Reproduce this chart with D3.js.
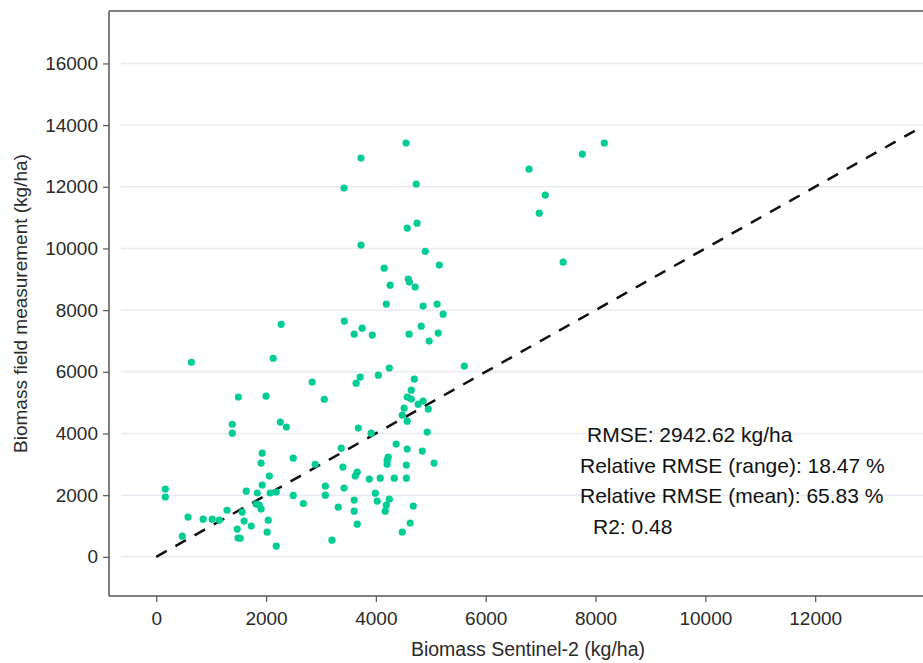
<!DOCTYPE html>
<html lang="en">
<head>
    <meta charset="UTF-8">
    <script src="https://d3js.org/d3.v7.min.js"></script>
    <title>Biomass scatter</title>
    <style>
        body{
            margin: 0;
            background: #fff;
        }
        svg text{
            font-family: "Liberation Sans", Arial, Helvetica, sans-serif;
        }
    </style>
</head>
<body>
    <script>
        // Sentinel-2 estimate (x) and field measurement (y), kg/ha
        const sentinel = [
            165, 165, 640, 475, 580, 855, 1020, 1150, 1290, 1385,
            1385, 1495, 1475, 1490, 1530, 1565, 1600, 1640, 1730, 1840,
            1820, 1875, 1910, 1930, 1930, 1910, 2000, 2060, 2075, 2040,
            2020, 2185, 2185, 2260, 2370, 2495, 2495, 2680, 2895, 2840,
            3060, 3080, 3080, 3200, 3315, 3370, 3400, 3420, 2275, 2130,
            4550, 3730, 3420, 4735, 4570, 4750, 3730, 4900, 4150, 5155,
            4260, 4590, 4610, 4715, 4190, 4860, 5115, 5225, 3425, 3750,
            3605, 3935, 4605, 4825, 5135, 4970, 5610, 4245, 4045, 3715,
            3640, 4700, 4645, 4570, 4645, 4860, 4770, 4955, 4515, 4480,
            4570, 3680, 3915, 4935, 4370, 4570, 4845, 4225, 4205, 4205,
            4555, 5060, 3660, 3625, 3880, 4080, 4335, 4555, 3990, 4025,
            4245, 4190, 4170, 3605, 3605, 4680, 3660, 4625, 4480, 6790,
            7760, 8160, 7085, 6975, 7410
        ];
        const field = [
            2200, 1940, 6310, 670, 1290, 1220, 1220, 1190, 1510, 4300,
            4010, 5180, 900, 610, 600, 1450, 1160, 2130, 1000, 2070,
            1710, 1680, 3040, 3360, 2330, 1550, 5210, 2620, 2070, 1190,
            800, 2100, 350, 4370, 4210, 3200, 1990, 1730, 3000, 5670,
            5110, 2290, 2000, 540, 1610, 3525, 2910, 2230, 7540, 6440,
            13420, 12930, 11960, 12090, 10660, 10820, 10110, 9910, 9360, 9460,
            8810, 9010, 8910, 8750, 8195, 8130, 8195, 7870, 7645, 7415,
            7220, 7190, 7220, 7480, 7255, 6995, 6185, 6120, 5890, 5830,
            5630, 5760, 5405, 5180, 5115, 5050, 4950, 4790, 4820, 4595,
            4400, 4175, 4010, 4045, 3655, 3495, 3430, 3235, 3135, 3005,
            2975, 3040, 2745, 2620, 2520, 2550, 2550, 2550, 2065, 1805,
            1870, 1675, 1480, 1840, 1480, 1645, 1060, 1095, 800, 12570,
            13060, 13420, 11730, 11145, 9555
        ];

        const xTicks = [0, 2000, 4000, 6000, 8000, 10000, 12000];
        const yTicks = [0, 2000, 4000, 6000, 8000, 10000, 12000, 14000, 16000];
        const oneToOne = [0, 14000];
        const stats = [
            "RMSE: 2942.62 kg/ha",
            "Relative RMSE (range): 18.47 %",
            "Relative RMSE (mean): 65.83 %",
            "R2: 0.48"
        ];

        const points = sentinel.map((s, i) => ({x: s, y: field[i]}));

        const width = 923;
        const height = 663;
        const margin = {top: 11, right: -2, bottom: 67, left: 109};

        const x = d3.scaleLinear()
            .domain([-860, 14000])
            .range([margin.left, width - margin.right]);

        const y = d3.scaleLinear()
            .domain([-1270, 17700])
            .range([height - margin.bottom, margin.top]);

        const svg = d3.select('body')
            .append('svg')
            .attr('width', width)
            .attr('height', height);

        // grid
        svg.append('g')
            .selectAll('line')
            .data(yTicks).enter()
            .append('line')
            .attr('x1', margin.left + 12)
            .attr('x2', width)
            .attr('y1', d => y(d))
            .attr('y2', d => y(d))
            .attr('stroke', '#e9ebf2')
            .attr('stroke-width', 1.5);

        // frame: top edge (right edge is out of view)
        svg.append('line')
            .attr('x1', margin.left)
            .attr('x2', width)
            .attr('y1', margin.top)
            .attr('y2', margin.top)
            .attr('stroke', '#555')
            .attr('stroke-width', 1.5);

        const xAxis = d3.axisBottom(x)
            .tickValues(xTicks)
            .tickFormat(d3.format('d'))
            .tickSize(6)
            .tickPadding(10);

        const yAxis = d3.axisLeft(y)
            .tickValues(yTicks)
            .tickFormat(d3.format('d'))
            .tickSize(6)
            .tickPadding(5);

        const gx = svg.append('g')
            .attr('transform', `translate(0, ${height - margin.bottom})`)
            .call(xAxis);

        const gy = svg.append('g')
            .attr('transform', `translate(${margin.left}, 0)`)
            .call(yAxis);

        [gx, gy].forEach(g => {
            g.select('.domain').attr('stroke', '#555').attr('stroke-width', 1.5);
            g.selectAll('.tick line').attr('stroke', '#555').attr('stroke-width', 1.2);
            g.selectAll('.tick text')
                .attr('fill', '#2a2a2a')
                .style('font-size', '19px');
        });
        gy.select('.domain').attr('d', `M0,${margin.top}V${height - margin.bottom}`);
        gx.select('.domain').attr('d', `M${margin.left},0H${width}`);

        // 1:1 line
        svg.append('line')
            .attr('x1', x(oneToOne[0]))
            .attr('y1', y(oneToOne[0]))
            .attr('x2', x(oneToOne[1]))
            .attr('y2', y(oneToOne[1]))
            .attr('stroke', '#111')
            .attr('stroke-width', 2.5)
            .attr('stroke-dasharray', '12,10');

        svg.append('g')
            .selectAll('circle')
            .data(points).enter()
            .append('circle')
            .attr('cx', d => x(d.x))
            .attr('cy', d => y(d.y))
            .attr('r', 3.6)
            .attr('fill', '#00cc96');

        // stats text
        const statX = [587, 580, 580, 593];
        svg.append('g')
            .selectAll('text')
            .data(stats).enter()
            .append('text')
            .attr('x', (d, i) => statX[i])
            .attr('y', (d, i) => 442 + i * 30.5)
            .attr('fill', '#111')
            .style('font-size', '21px')
            .text(d => d);

        svg.append('text')
            .attr('x', (margin.left + width) / 2 + 12)
            .attr('y', 656)
            .attr('text-anchor', 'middle')
            .attr('fill', '#2a2a2a')
            .style('font-size', '19.5px')
            .text('Biomass Sentinel-2 (kg/ha)');

        svg.append('text')
            .attr('transform', `translate(27, ${(margin.top + height - margin.bottom) / 2}) rotate(-90)`)
            .attr('text-anchor', 'middle')
            .attr('fill', '#2a2a2a')
            .style('font-size', '19px')
            .text('Biomass field measurement (kg/ha)');
    </script>
</body>
</html>
